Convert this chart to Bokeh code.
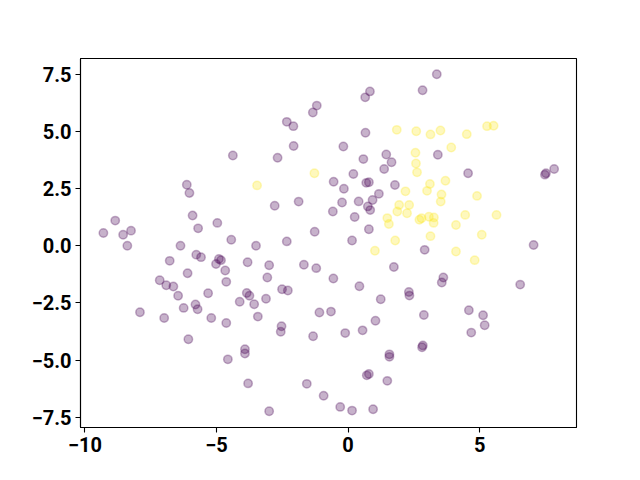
from bokeh.plotting import figure
from bokeh.models import Range1d, FixedTicker
from bokeh.embed import file_html
from bokeh.resources import INLINE

# purple class (label 0)
purple_x = [-4.38, -6.13, 0.83, 0.65, -1.19, -1.34, -2.33, -2.08, 0.66, -2.07,
            -0.18, 1.45, -2.68, 0.58, 1.65, 1.37, 0.20, -0.55, 0.69, 0.79,
            1.78, -0.16, 1.17, -2.79, -1.88, -0.23, 0.40, 0.93, 0.75, 0.84,
            -0.58, 0.25, 0.79, -1.27, 0.15, -2.33, -3.50, -3.82, -3.00, -1.68,
            -1.21, 1.74, -3.07, -0.56, -2.51, -2.29, 0.43, -3.85, -3.75, -3.12,
            -3.57, 1.24, 2.31, 2.33, -3.43, -2.53, -2.56, -1.09, -0.65, -1.33,
            -0.11, 0.55, 1.04, -3.92, -3.92, 1.57, 1.57, 0.79, 0.71, 1.49,
            -3.80, -1.57, -0.93, -0.30, 0.15, 0.95, -3.00, -7.91, -6.99, -6.25,
            -5.80, -5.72, -5.20, -4.63, -6.46, -5.32, -4.12, -6.07, -4.57, -6.03,
            -8.85, -9.30, -8.55, -8.25, -8.39, -5.91, -5.70, -4.97, -4.44, -6.37,
            -6.78, -5.77, -5.59, -4.91, -4.83, -5.02, -4.67, -6.10, -7.16, -6.91,
            -6.64, -4.63, 3.37, 2.83, 3.41, 4.56, 7.48, 7.52, 7.83, 2.91,
            7.05, 3.62, 3.56, 6.54, 2.88, 4.59, 5.13, 5.19, 4.68, 2.84, 2.81]
purple_y = [3.95, 2.67, 6.75, 6.49, 6.13, 5.83, 5.42, 5.23, 4.94, 4.36,
            4.34, 3.99, 3.85, 3.79, 3.65, 3.36, 3.14, 2.80, 2.75, 2.78,
            2.66, 2.49, 2.27, 1.75, 1.93, 1.89, 1.94, 2.00, 1.72, 1.56,
            1.50, 1.26, 0.72, 0.61, 0.23, 0.19, 0.00, -0.72, -0.85, -0.83,
            -0.98, -0.93, -1.39, -1.43, -1.90, -1.96, -1.77, -2.07, -2.19, -2.32,
            -2.56, -2.34, -2.02, -2.18, -3.10, -3.52, -3.76, -2.92, -2.88, -3.96,
            -3.82, -3.70, -3.28, -4.53, -4.71, -4.75, -4.86, -5.61, -5.67, -5.91,
            -6.02, -6.04, -6.56, -7.05, -7.21, -7.15, -7.24, -2.91, -3.16, -2.72,
            -2.57, -2.78, -3.16, -3.38, -2.19, -2.08, -2.45, -4.09, -4.97, 2.31,
            1.10, 0.56, 0.48, 0.66, 0.00, 1.32, 0.76, 1.00, 0.26, 0.00,
            -0.66, -0.39, -0.50, -0.58, -0.63, -0.80, -1.08, -1.20, -1.51, -1.73,
            -1.78, -1.58, 7.50, 6.80, 3.98, 3.17, 3.11, 3.17, 3.36, -0.18,
            0.03, -1.39, -1.61, -1.70, -3.03, -2.82, -3.04, -3.48, -3.80, -4.36, -4.44]

# yellow class (label 1)
yellow_x = [1.85, -1.28, -3.46, 2.18, 1.94, 2.32, 1.87, 2.24, 1.49, 1.55,
            1.79, 1.02, 2.59, 3.13, 3.51, 4.51, 5.28, 5.53, 3.92, 2.56,
            2.58, 2.62, 3.11, 3.70, 3.00, 3.55, 3.52, 4.90, 2.71, 2.79,
            3.07, 3.26, 3.25, 4.45, 5.64, 4.10, 3.13, 5.08, 4.10, 4.81]
yellow_y = [5.07, 3.17, 2.64, 2.38, 1.78, 1.78, 1.50, 1.42, 1.21, 0.95,
            0.23, -0.22, 5.01, 4.87, 5.04, 4.88, 5.23, 5.25, 4.30, 4.07,
            3.60, 3.21, 2.70, 2.84, 2.40, 2.24, 1.93, 2.18, 1.14, 1.20,
            1.27, 1.24, 1.00, 1.35, 1.35, 0.91, 0.42, 0.48, -0.25, -0.63]

x_ticks = [-10, -5, 0, 5]
x_labels = ["\u221210", "\u22125", "0", "5"]
y_ticks = [-7.5, -5.0, -2.5, 0.0, 2.5, 5.0, 7.5]
y_labels = ["\u22127.5", "\u22125.0", "\u22122.5", "0.0", "2.5", "5.0", "7.5"]

p = figure(width=632, height=464,
           x_range=Range1d(-10.17, 8.68), y_range=Range1d(-7.95, 8.19),
           output_backend="svg", toolbar_location=None,
           min_border_left=80, min_border_right=56,
           min_border_top=58, min_border_bottom=37)

p.xgrid.visible = False
p.ygrid.visible = False
p.outline_line_color = "black"
p.outline_line_width = 1.1
p.background_fill_color = "white"
p.border_fill_color = "white"

p.xaxis.ticker = FixedTicker(ticks=x_ticks)
p.yaxis.ticker = FixedTicker(ticks=y_ticks)
p.xaxis.major_label_overrides = {float(t): l for t, l in zip(x_ticks, x_labels)}
p.yaxis.major_label_overrides = {float(t): l for t, l in zip(y_ticks, y_labels)}

for ax in (p.xaxis[0], p.yaxis[0]):
    ax.axis_line_color = "black"
    ax.axis_line_width = 1.1
    ax.major_tick_out = 5
    ax.major_tick_in = 0
    ax.major_tick_line_width = 1.1
    ax.minor_tick_out = 0
    ax.minor_tick_in = 0
    ax.major_label_text_font = "Roboto"
    ax.major_label_text_font_style = "bold"
    ax.major_label_text_font_size = "20px"
    ax.major_label_text_color = "black"
    ax.major_label_standoff = 4

p.scatter(purple_x, purple_y, size=8.4, marker="circle",
          fill_color="#440154", line_color="#440154",
          fill_alpha=0.3, line_alpha=0.3, line_width=1.5)
p.scatter(yellow_x, yellow_y, size=8.4, marker="circle",
          fill_color="#fde725", line_color="#fde725",
          fill_alpha=0.3, line_alpha=0.3, line_width=1.5)

open("out.html", "w").write(file_html(p, INLINE))
